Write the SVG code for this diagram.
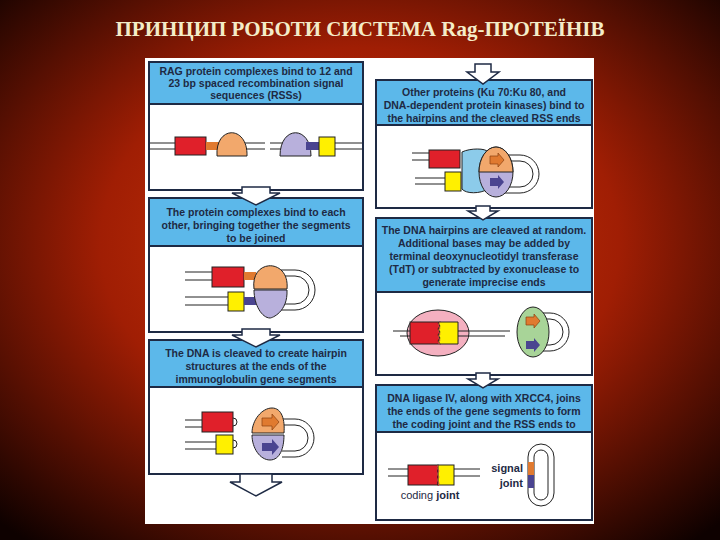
<svg xmlns="http://www.w3.org/2000/svg" width="720" height="540" viewBox="0 0 720 540">
<defs>
<radialGradient id="bg" cx="50%" cy="45%" r="72%">
<stop offset="0" stop-color="#d43a0a"/><stop offset="0.5" stop-color="#a01e04"/><stop offset="1" stop-color="#0e0100"/>
</radialGradient>
<style>
.hd{fill:#5cb8ea;stroke:#1e2a44;stroke-width:2}
.bd{fill:#fff;stroke:#1e2a44;stroke-width:2}
.t{font-family:"Liberation Sans",Arial,sans-serif;font-size:10.5px;font-weight:bold;fill:#1e2a44;text-anchor:middle}
.ar{fill:#fff;stroke:#1e2a44;stroke-width:1.5}
.dna{stroke:#222;stroke-width:1;fill:none}
.red{fill:#e0202a;stroke:#222;stroke-width:1}
.yel{fill:#fff000;stroke:#222;stroke-width:1}
.or{fill:#f2a86c;stroke:#222;stroke-width:1}
.pu{fill:#b8b0dc;stroke:#222;stroke-width:1}
.hp{fill:none;stroke:#222;stroke-width:1}
</style>
</defs>
<rect width="720" height="540" fill="url(#bg)"/>
<text x="360" y="36" font-family="Liberation Serif,serif" font-size="21" font-weight="bold" fill="#f4ecc8" text-anchor="middle">ПРИНЦИП РОБОТИ СИСТЕМА Rag-ПРОТЕЇНІВ</text>
<rect x="145" y="58" width="449" height="466" fill="#fff"/>

<g id="box1">
<rect class="bd" x="149" y="104" width="214" height="86"/>
<rect class="hd" x="149" y="62" width="214" height="42"/>
<text class="t" x="256" y="75">RAG protein complexes bind to 12 and</text>
<text class="t" x="256" y="87">23 bp spaced recombination signal</text>
<text class="t" x="256" y="99">sequences (RSSs)</text>
<path class="dna" d="M150,143 H265 M150,149 H265 M270,143 H362 M270,149 H362"/>
<rect class="red" x="175" y="137" width="31" height="18"/>
<rect x="206" y="142" width="13" height="8" fill="#e07a30"/>
<path class="or" d="M217,156 C215,125 248,125 247,156 Z"/>
<path class="pu" d="M280,156 C280,125 311,125 311,156 Z"/>
<rect x="306" y="142" width="13" height="8" fill="#4a4490"/>
<rect class="yel" x="319" y="137" width="16" height="19"/>
</g>

<g id="box2">
<rect class="bd" x="149" y="246" width="214" height="86"/>
<rect class="hd" x="149" y="198" width="214" height="48"/>
<text class="t" x="256" y="216">The protein complexes bind to each</text>
<text class="t" x="256" y="229">other, bringing together the segments</text>
<text class="t" x="256" y="242">to be joined</text>
<path class="dna" d="M185,272 H212 M185,280 H212 M185,297 H228 M185,305 H228"/>
<path class="hp" d="M280,270 H295 A20,20 0 0 1 295,310 H280 M280,276 H295 A14,14 0 0 1 295,304 H280"/>
<rect class="red" x="212" y="267" width="32" height="20"/>
<rect x="244" y="272" width="12" height="8" fill="#e07a30"/>
<path class="or" d="M254,289 C250,258 290,258 287,289 Z"/>
<rect class="yel" x="228" y="292" width="16" height="19"/>
<rect x="244" y="297" width="12" height="8" fill="#4a4490"/>
<path class="pu" d="M254,290 H287 C288,312 272,318 270,318 C262,318 254,305 254,290 Z"/>
</g>

<g id="box3">
<rect class="bd" x="149" y="387" width="214" height="87"/>
<rect class="hd" x="149" y="340" width="214" height="47"/>
<text class="t" x="256" y="357">The DNA is cleaved to create hairpin</text>
<text class="t" x="256" y="370">structures at the ends of the</text>
<text class="t" x="256" y="383">immunoglobulin gene segments</text>
<path class="dna" d="M185,420 H202 M185,427 H202 M185,442 H216 M185,449 H216"/>
<rect class="red" x="202" y="412" width="31" height="20"/>
<path class="hp" d="M233,418 a4,4 0 0 1 0,8"/>
<rect class="yel" x="216" y="435" width="17" height="19"/>
<path class="hp" d="M233,440 a4,4 0 0 1 0,8"/>
<path class="hp" d="M282,419 H295 A19,19 0 0 1 295,457 H282 M282,425 H295 A13,13 0 0 1 295,451 H282"/>
<path class="or" d="M252,433 C252,420 262,408 272,408 C282,408 285,420 284,433 Z"/>
<path class="pu" d="M252,435 H284 C284,448 280,460 270,460 C260,460 252,448 252,435 Z"/>
<path d="M262,418 h10 v-4 l7,8 l-7,8 v-4 h-10 z" fill="#e07a30" stroke="#8a4010" stroke-width="0.7"/>
<path d="M262,443 h10 v-4 l7,8 l-7,8 v-4 h-10 z" fill="#4a4490"/>
</g>

<g id="box4">
<rect class="bd" x="376" y="125" width="216" height="83"/>
<rect class="hd" x="376" y="80" width="216" height="45"/>
<text class="t" x="484" y="96">Other proteins (Ku 70:Ku 80, and</text>
<text class="t" x="484" y="109">DNA-dependent protein kinases) bind to</text>
<text class="t" x="484" y="122">the hairpins and the cleaved RSS ends</text>
<path class="dna" d="M412,153 H430 M412,160 H430 M415,178 H445 M415,184 H445"/>
<rect class="red" x="429" y="150" width="31" height="18"/>
<rect class="yel" x="445" y="172" width="16" height="19"/>
<path d="M462,152 C470,148 486,148 488,152 C484,165 484,178 488,189 C480,194 466,194 462,189 Z" fill="#8ccbea" stroke="#222"/>
<path class="hp" d="M505,155 H520 A19,19 0 0 1 520,193 H505 M505,161 H520 A13,13 0 0 1 520,187 H505"/>
<ellipse cx="496" cy="172" rx="17" ry="25" fill="#b8b0dc" stroke="#222"/>
<path d="M479,172 A17,25 0 0 1 513,172 Z" fill="#f2a86c" stroke="#222"/>
<path d="M490,156 h8 v-3 l6,7 l-6,7 v-3 h-8 z" fill="#e07a30" stroke="#8a4010" stroke-width="0.7"/>
<path d="M490,178 h8 v-3 l6,7 l-6,7 v-3 h-8 z" fill="#4a4490"/>
</g>

<g id="box5">
<rect class="bd" x="376" y="292" width="216" height="83"/>
<rect class="hd" x="376" y="218" width="216" height="74"/>
<text class="t" x="484" y="234">The DNA hairpins are cleaved at random.</text>
<text class="t" x="484" y="247">Additional bases may be added by</text>
<text class="t" x="484" y="260">terminal  deoxynucleotidyl transferase</text>
<text class="t" x="484" y="273">(TdT) or subtracted by exonuclease to</text>
<text class="t" x="484" y="286">generate imprecise ends</text>
<ellipse cx="438" cy="333" rx="31" ry="23" fill="#f4b0c0" stroke="#222"/>
<path class="dna" d="M393,331 H510 M400,336 H505" stroke-width="0.7"/>
<rect class="red" x="410" y="322" width="30" height="22"/>
<path d="M440,322 h18 v22 h-18 l-2,-3 2,-3 -2,-3 2,-3 -2,-3 2,-3 -2,-3 z" fill="#fff000" stroke="#222"/>
<path d="M440,322 l-2,3 2,3 -2,3 2,3 -2,3 2,3 -2,3 2,1" fill="none" stroke="#c04040"/>
<path class="hp" d="M535,313 H550 A19,19 0 0 1 550,351 H535 M535,319 H550 A13,13 0 0 1 550,345 H535"/>
<ellipse cx="533" cy="332" rx="16" ry="25" fill="#a8d498" stroke="#222"/>
<path d="M526,317 h8 v-3 l6,7 l-6,7 v-3 h-8 z" fill="#e07a30" stroke="#8a4010" stroke-width="0.7"/>
<path d="M526,341 h8 v-3 l6,7 l-6,7 v-3 h-8 z" fill="#4a4490"/>
</g>

<g id="box6">
<rect class="bd" x="376" y="432" width="216" height="88"/>
<rect class="hd" x="376" y="385" width="216" height="47"/>
<text class="t" x="484" y="402" font-size="10px">DNA ligase IV, along with XRCC4, joins</text>
<text class="t" x="484" y="415" font-size="10px">the ends of the gene segments to form</text>
<text class="t" x="484" y="428" font-size="10px">the coding joint and the RSS ends to</text>
<path class="dna" d="M388,469 H480 M388,476 H480"/>
<rect class="red" x="408" y="465" width="30" height="20"/>
<rect class="yel" x="438" y="465" width="16" height="20"/>
<path d="M438,465 l-1,3 2,3 -2,3 2,3 -2,3 2,3 -1,3" fill="none" stroke="#c04040"/>
<text x="430" y="499" font-family="Liberation Sans,Arial,sans-serif" font-size="11" fill="#1e2a44" text-anchor="middle">coding <tspan font-weight="bold">joint</tspan></text>
<text x="523" y="472" font-family="Liberation Sans,Arial,sans-serif" font-size="11" font-weight="bold" fill="#1e2a44" text-anchor="end">signal</text>
<text x="523" y="487" font-family="Liberation Sans,Arial,sans-serif" font-size="11" font-weight="bold" fill="#1e2a44" text-anchor="end">joint</text>
<rect x="528" y="444" width="26" height="62" rx="13" fill="none" stroke="#222"/>
<rect x="534" y="450" width="14" height="50" rx="7" fill="none" stroke="#222"/>
<rect x="528" y="462" width="6" height="13" fill="#e07a30"/>
<rect x="528" y="475" width="6" height="13" fill="#4a4490"/>
</g>

<g id="connectors">
<path class="ar" d="M242,187 h28 v6 h10 l-24,12 l-24,-12 h10 z"/>
<path class="ar" d="M242,329 h28 v6 h10 l-24,12 l-24,-12 h10 z"/>
<path class="ar" d="M240,474 h32 v8 h10 l-26,14 l-26,-14 h10 z"/>
<path class="ar" d="M475,64 h16 v8 h8 l-16,12 l-16,-12 h8 z"/>
<path class="ar" d="M476,206 h14 v5 h8 l-15,9 l-15,-9 h8 z"/>
<path class="ar" d="M476,373 h14 v6 h8 l-15,9 l-15,-9 h8 z"/>
</g>
</svg>
